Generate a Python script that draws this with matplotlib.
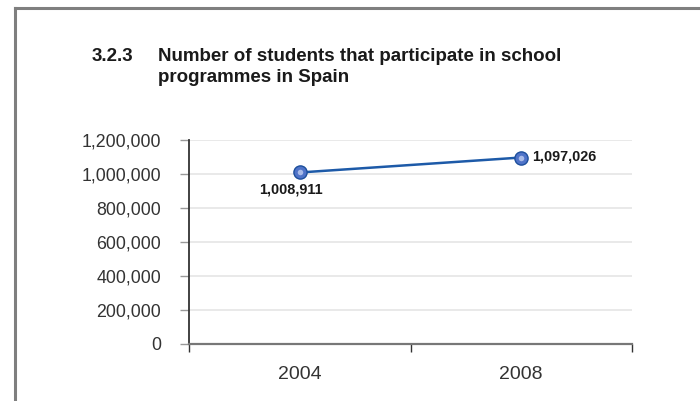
import matplotlib
matplotlib.use("Agg")
import matplotlib.pyplot as plt
from matplotlib.ticker import FuncFormatter, FixedLocator

years = ["2004", "2008"]
students = [1008911, 1097026]
point_labels = ["1,008,911", "1,097,026"]
y_ticks = [0, 200000, 400000, 600000, 800000, 1000000, 1200000]

plt.rcParams["font.family"] = ["Liberation Sans", "DejaVu Sans"]

W, H = 700, 401
fig = plt.figure(figsize=(W / 100, H / 100), dpi=100)

# page frame (left and top edges)
fig.add_artist(plt.Line2D([15 / W, 15 / W], [0, 1 - 8 / H], color="#7f7f7f", lw=2.2))
fig.add_artist(plt.Line2D([15 / W, 1], [1 - 8 / H, 1 - 8 / H], color="#7f7f7f", lw=2.2))

title_kw = dict(fontsize=13.5, fontweight="bold", color="#1a1a1a", va="baseline")
fig.text(92 / W, 1 - 61 / H, "3.2.3", **title_kw)
fig.text(158 / W, 1 - 61 / H, "Number of students that participate in school", **title_kw)
fig.text(158 / W, 1 - 82.5 / H, "programmes in Spain", **title_kw)

x0, x1, y0, y1 = 189, 632, 344, 140
ax = fig.add_axes([x0 / W, 1 - y0 / H, (x1 - x0) / W, (y0 - y1) / H])

xs = [0.5, 1.5]
ax.plot(xs, students, color="#1d5aa8", lw=1.8, marker="o", markersize=9.5,
        markerfacecolor="#4f73c8", markeredgecolor="#1d4f9c", markeredgewidth=1.0,
        zorder=3)
# highlights on the markers
ax.plot(xs, students, ls="none", marker="o", markersize=4,
        markerfacecolor="#a9bbe8", markeredgecolor="none", zorder=4)

ax.annotate(point_labels[0], (xs[0], students[0]), xytext=(-6.5, -12.5),
            textcoords="offset points", ha="center", va="center",
            fontsize=10.4, fontweight="bold", color="#1a1a1a")
ax.annotate(point_labels[1], (xs[1], students[1]), xytext=(7.5, 1),
            textcoords="offset points", ha="left", va="center",
            fontsize=10.4, fontweight="bold", color="#1a1a1a")

ax.set_xlim(0, 2)
ax.set_ylim(0, 1200000)
ax.yaxis.set_major_locator(FixedLocator(y_ticks))
ax.yaxis.set_major_formatter(FuncFormatter(lambda v, p: f"{int(v):,}"))
ax.set_xticks([0, 1, 2])
ax.set_xticks(xs, minor=True)
ax.set_xticklabels([], minor=False)
ax.set_xticklabels(years, minor=True)
ax.tick_params(axis="x", which="major", length=6, width=1, color="#333333", direction="out")
ax.tick_params(axis="x", which="minor", length=0, pad=15.5, labelsize=14, labelcolor="#333333")
ax.tick_params(axis="y", length=6.5, width=1, color="#999999", pad=13.5,
               labelsize=12.8, labelcolor="#333333")

ax.grid(axis="y", color="#e3e3e3", lw=1.1)
ax.set_axisbelow(True)
for s in ["top", "right"]:
    ax.spines[s].set_visible(False)
ax.spines["left"].set_color("#333333")
ax.spines["left"].set_linewidth(1.3)
ax.spines["bottom"].set_color("#777777")
ax.spines["bottom"].set_linewidth(1.6)

fig.savefig("out.png", dpi=100)
